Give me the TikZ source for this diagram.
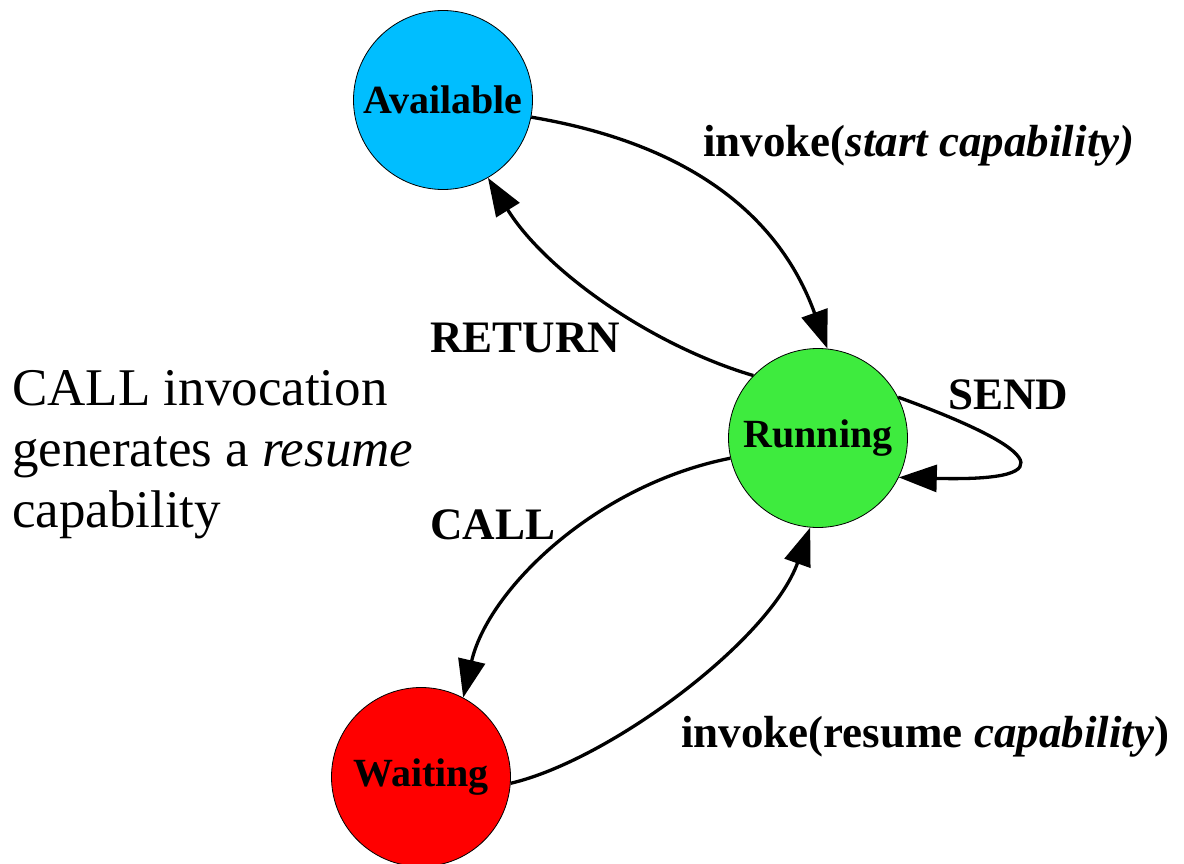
\documentclass[tikz,border=0pt]{standalone}
\usepackage{fontspec}
\setmainfont{Liberation Serif}
\newfontfamily\notefont{Liberation Serif}
\usetikzlibrary{arrows.meta}
\definecolor{availblue}{RGB}{0,190,255}
\definecolor{rungreen}{RGB}{62,235,62}
\definecolor{waitred}{RGB}{255,0,0}
\begin{document}
\begin{tikzpicture}[x=1pt,y=-1pt,
  state/.style={circle,draw=black,line width=0.8pt,minimum size=179pt,inner sep=0pt,
                font=\fontsize{40}{48}\selectfont\bfseries},
  trans/.style={line width=3.3pt,-{Triangle[length=38pt,width=27pt]}},
  lbl/.style={anchor=base west,inner sep=0pt,font=\fontsize{45}{54}\selectfont\bfseries},
  sidenote/.style={anchor=base west,inner sep=0pt,align=left,
                   font=\notefont\fontsize{53}{61}\selectfont}]
\useasboundingbox (0,0) rectangle (1184,864);

% states
\node[state,fill=availblue] (avail) at (443,100) {Available};
\node[state,fill=rungreen]  (run)   at (818,438) {Running};
\node[state,fill=waitred]   (wait)  at (421,777) {Waiting};

% transitions
\draw[trans] (avail.-11) .. controls (685,143) and (778,212) .. (run.84);
\draw[trans] (run.136) .. controls (650,345) and (545,270) .. (avail.-60);
\draw[trans] (run.193) .. controls (595,485) and (488,590) .. (wait.62);
\draw[trans] (wait.-4) .. controls (610,760) and (770,640) .. (run.265);
\draw[trans] (run.27) .. controls (1030,445) and (1075,482) .. (run.-26);

% transition labels
\node[lbl] (lstart)  at (703,157) {invoke(\textit{start capability)}};
\node[lbl] (lreturn) at (430,352) {RETURN};
\node[lbl] (lsend)   at (948,409) {SEND};
\node[lbl] (lcall)   at (430,539) {CALL};
\node[lbl] (lresume) at (681,747) {invoke(resume \textit{capability})};

% side note (anchored on the baseline of its last line)
\node[sidenote] (note) at (12,527) {CALL invocation\\generates a \textit{resume}\\capability};
\end{tikzpicture}
\end{document}
